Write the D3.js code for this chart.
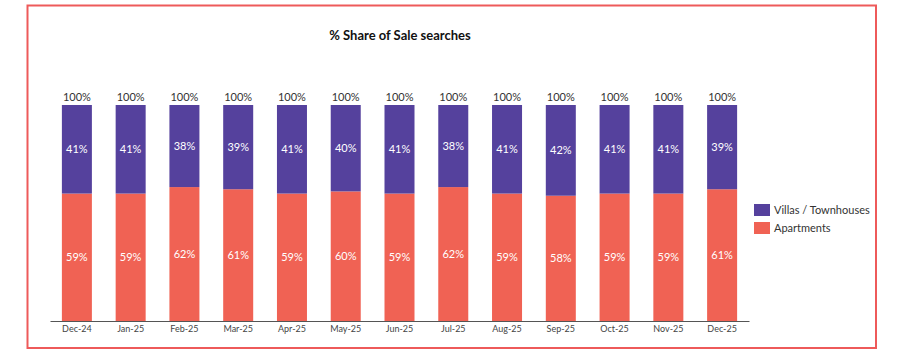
<!DOCTYPE html>
<html><head><meta charset="utf-8">
<script src="https://cdn.jsdelivr.net/npm/d3@7/dist/d3.min.js"></script>
<style>html,body{margin:0;padding:0;background:#fff;}svg{display:block;font-family:Lato,"Open Sans",sans-serif;}</style>
</head><body>
<svg id="c" width="900" height="359"></svg>
<script>
const categories = ["Dec-24","Jan-25","Feb-25","Mar-25","Apr-25","May-25","Jun-25","Jul-25","Aug-25","Sep-25","Oct-25","Nov-25","Dec-25"];
const apartments = [59,59,62,61,59,60,59,62,59,58,59,59,61];
const villas = [41,41,38,39,41,40,41,38,41,42,41,41,39];
const totals = [100,100,100,100,100,100,100,100,100,100,100,100,100];
const seriesNames = ["Villas / Townhouses","Apartments"];
const colors = {"Villas / Townhouses":"#55419d","Apartments":"#f06254"};

const svg = d3.select("#c");
svg.append("rect").attr("x",27.5).attr("y",5.5).attr("width",848.5).attr("height",342.5)
  .attr("fill","none").attr("stroke","#ee5a5a").attr("stroke-width",2);

svg.append("text").attr("x",400).attr("y",40).attr("text-anchor","middle")
  .attr("font-size",13).attr("font-weight","bold").attr("fill","#111").text("% Share of Sale searches");

const x = d3.scaleBand().domain(categories).range([50,749]).paddingInner(0.442).paddingOuter(0.221);
const y = d3.scaleLinear().domain([0,100]).range([321,105]);

const rows = categories.map((c,i)=>({cat:c, "Apartments":apartments[i], "Villas / Townhouses":villas[i]}));
const stack = d3.stack().keys(["Apartments","Villas / Townhouses"]);
const layers = stack(rows);

const g = svg.append("g");
layers.forEach(layer=>{
  g.selectAll(null).data(layer).enter().append("rect")
    .attr("x",d=>x(d.data.cat)).attr("width",x.bandwidth())
    .attr("y",d=>y(d[1])).attr("height",d=>y(d[0])-y(d[1]))
    .attr("fill",colors[layer.key]);
  g.selectAll(null).data(layer).enter().append("text")
    .attr("x",d=>x(d.data.cat)+x.bandwidth()/2)
    .attr("y",d=>(y(d[0])+y(d[1]))/2)
    .attr("dy","0.35em").attr("text-anchor","middle")
    .attr("font-size",11).attr("fill","#fff")
    .text(d=>d.data[layer.key]+"%");
});

g.selectAll(null).data(categories).enter().append("text")
  .attr("x",d=>x(d)+x.bandwidth()/2).attr("y",(d,i)=>y(totals[i])-8)
  .attr("dy","0.35em").attr("text-anchor","middle")
  .attr("font-size",11).attr("fill","#333").text((d,i)=>totals[i]+"%");

const axis = d3.axisBottom(x).tickSize(0).tickPadding(5);
const ax = svg.append("g").attr("transform","translate(0,321)").call(axis);
ax.select(".domain").attr("stroke","#555").attr("stroke-width",1);
ax.selectAll("text").attr("font-size",9).attr("fill","#444").attr("font-family","Lato,'Open Sans',sans-serif");

const leg = svg.append("g").attr("transform","translate(754,204)");
seriesNames.forEach((s,i)=>{
  leg.append("rect").attr("x",0).attr("y",i*18).attr("width",16).attr("height",12).attr("fill",colors[s]);
  leg.append("text").attr("x",20).attr("y",i*18+6).attr("dy","0.35em")
    .attr("font-size",11).attr("fill","#333").text(s);
});
</script>
</body></html>
